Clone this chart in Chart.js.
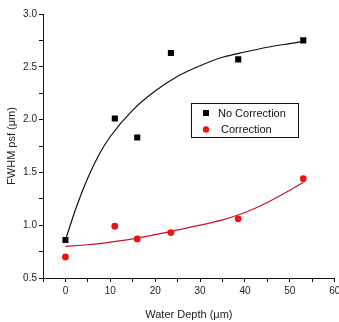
<!DOCTYPE html>
<html>
<head>
<meta charset="utf-8">
<script src="https://cdn.jsdelivr.net/npm/chart.js@4"></script>
<style>
  html, body { margin: 0; padding: 0; background: #fff; }
  #wrap { width: 339px; height: 322px; }
</style>
</head>
<body>
<div id="wrap"><canvas id="fwhmChart" width="339" height="322"></canvas></div>
<script>
// measured points
var depths = [0, 11, 16, 23.5, 38.5, 53];
var noCorrection = [0.86, 2.01, 1.83, 2.63, 2.57, 2.75];
var correction = [0.70, 0.99, 0.87, 0.93, 1.06, 1.44];

// fitted curves
var blackFitDepths = [0, 2.5, 5, 7.5, 10, 15, 20, 25, 30, 35, 40, 45, 50, 53];
var noCorrectionFit = [0.86, 1.18, 1.45, 1.67, 1.84, 2.09, 2.27, 2.41, 2.51, 2.59, 2.64, 2.685, 2.72, 2.74];
var redFitDepths = [0, 5, 10, 15, 20, 25, 30, 35, 40, 45, 50, 53];
var correctionFit = [0.80, 0.815, 0.84, 0.87, 0.91, 0.955, 1.0, 1.05, 1.12, 1.215, 1.33, 1.405];

function toXY(xs, ys) {
    return xs.map(function (x, i) { return { x: x, y: ys[i] }; });
}

var FONT = 'Liberation Sans, Arial, sans-serif';

// legend box drawn inside the plot
var boxLegend = {
    id: 'boxLegend',
    afterDraw: function (chart) {
        var ctx = chart.ctx;
        ctx.save();
        ctx.strokeStyle = '#111';
        ctx.lineWidth = 1;
        ctx.strokeRect(191.5, 103.5, 107, 34);
        ctx.font = '11px ' + FONT;
        ctx.textBaseline = 'middle';
        // No Correction
        ctx.fillStyle = '#000';
        ctx.fillRect(203, 110, 6, 6);
        ctx.fillStyle = '#111';
        ctx.fillText(chart.data.datasets[0].label, 218, 113.5);
        // Correction
        ctx.fillStyle = '#ee1111';
        ctx.beginPath();
        ctx.arc(206, 129.5, 3.2, 0, Math.PI * 2);
        ctx.fill();
        ctx.fillStyle = '#111';
        ctx.fillText(chart.data.datasets[1].label, 221, 129.5);
        ctx.restore();
    }
};

var ctx = document.getElementById('fwhmChart').getContext('2d');
var fwhmChart = new Chart(ctx, {
    type: 'scatter',
    data: {
        datasets: [{
            label: 'No Correction',
            data: toXY(depths, noCorrection),
            pointStyle: 'rect',
            pointRadius: 4.3,
            backgroundColor: '#000',
            borderColor: '#000',
            borderWidth: 0,
            showLine: false
        }, {
            label: 'Correction',
            data: toXY(depths, correction),
            pointStyle: 'circle',
            pointRadius: 3.4,
            backgroundColor: '#ee1111',
            borderColor: '#ee1111',
            borderWidth: 0,
            showLine: false
        }, {
            label: 'No Correction fit',
            data: toXY(blackFitDepths, noCorrectionFit),
            showLine: true,
            pointRadius: 0,
            borderColor: '#111',
            borderWidth: 1.2,
            cubicInterpolationMode: 'monotone'
        }, {
            label: 'Correction fit',
            data: toXY(redFitDepths, correctionFit),
            showLine: true,
            pointRadius: 0,
            borderColor: '#cc1030',
            borderWidth: 1.2,
            cubicInterpolationMode: 'monotone'
        }]
    },
    options: {
        responsive: false,
        animation: false,
        layout: { padding: { top: 14, right: 4, left: 0, bottom: 0 } },
        plugins: {
            legend: { display: false },
            tooltip: { enabled: false }
        },
        scales: {
            x: {
                type: 'linear',
                min: -5,
                max: 60,
                border: { display: true, color: '#111', width: 1 },
                grid: { drawOnChartArea: false, drawTicks: true, tickLength: 4, color: '#111' },
                ticks: {
                    stepSize: 5,
                    autoSkip: false,
                    maxRotation: 0,
                    padding: 3,
                    color: '#222',
                    font: { family: FONT, size: 10 },
                    callback: function (v) { return v % 10 === 0 ? String(v) : ''; }
                },
                title: {
                    display: true,
                    text: 'Water Depth (μm)',
                    color: '#222',
                    font: { family: FONT, size: 11 },
                    padding: { top: 3, bottom: 0 }
                },
                afterFit: function (s) { s.height = 44; s.paddingLeft = 0; s.paddingRight = 0; }
            },
            y: {
                min: 0.5,
                max: 3.0,
                border: { display: true, color: '#111', width: 1 },
                grid: { drawOnChartArea: false, drawTicks: true, tickLength: 4, color: '#111' },
                ticks: {
                    stepSize: 0.25,
                    autoSkip: false,
                    padding: 2,
                    color: '#222',
                    font: { family: FONT, size: 10 },
                    callback: function (v) {
                        return Math.abs(v * 2 - Math.round(v * 2)) < 1e-6 ? v.toFixed(1) : '';
                    }
                },
                title: {
                    display: true,
                    text: 'FWHM psf (μm)',
                    color: '#222',
                    font: { family: FONT, size: 11 },
                    padding: { top: 5, bottom: 0 }
                },
                afterFit: function (s) { s.width = 43; s.paddingTop = 0; s.paddingBottom = 0; }
            }
        }
    },
    plugins: [boxLegend]
});
</script>
</body>
</html>
